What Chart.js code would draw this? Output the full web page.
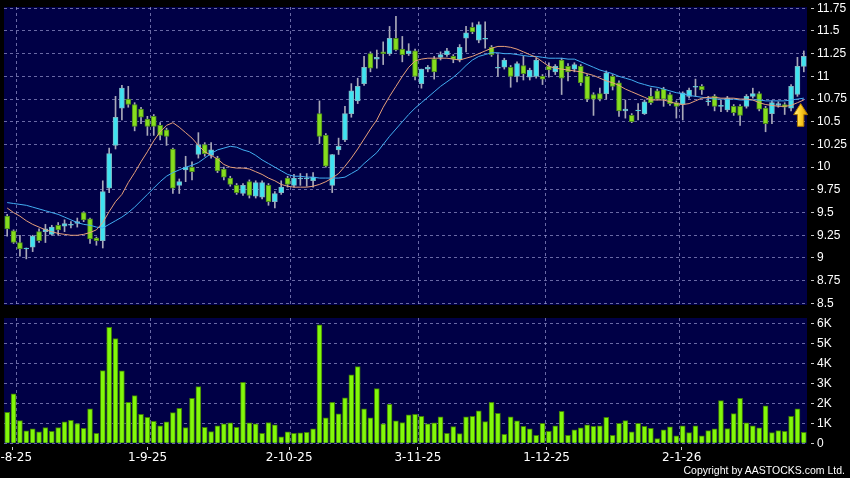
<!DOCTYPE html>
<html><head><meta charset="utf-8">
<script src="https://cdn.jsdelivr.net/npm/chart.js@4/dist/chart.umd.min.js"></script>
<style>
html,body{margin:0;padding:0;background:#000;width:850px;height:478px;overflow:hidden;}
#wrap{position:relative;width:850px;height:478px;background:#000;}
#c1{position:absolute;left:0;top:0;}
#c2{position:absolute;left:0;top:310px;}
#copy{position:absolute;right:5px;top:464px;color:#fff;font:10.5px "Liberation Sans",Arial,sans-serif;white-space:nowrap;}
</style></head>
<body>
<div id="wrap">
<canvas id="c1" width="850" height="310"></canvas>
<canvas id="c2" width="850" height="168"></canvas>
<div id="copy">Copyright by AASTOCKS.com Ltd.</div>
</div>
<script>
// ---- data ----
const dateLabels = ['1-8-25','1-9-25','2-10-25','3-11-25','1-12-25','2-1-26'];
const dateIndex  = [1, 22, 44, 64, 84, 105];
const priceTicks = [8.5, 8.75, 9, 9.25, 9.5, 9.75, 10, 10.25, 10.5, 10.75, 11, 11.25, 11.5, 11.75];
const volTicks   = [0, 1000, 2000, 3000, 4000, 5000, 6000];

const open = [9.46,9.30,9.17,9.10,9.12,9.29,9.29,9.26,9.36,9.35,
 9.36,9.38,9.50,9.43,9.22,9.19,9.77,10.24,10.65,10.75,
 10.69,10.64,10.53,10.56,10.46,10.41,10.20,9.80,9.97,10.00,
 10.14,10.25,10.13,10.10,9.98,9.88,9.80,9.71,9.84,9.68,
 9.67,9.80,9.62,9.72,9.88,9.80,9.87,9.87,9.85,10.59,
 10.35,9.80,10.19,10.30,10.59,10.73,10.92,11.25,11.19,11.27,
 11.25,11.42,11.30,11.25,11.28,10.92,11.08,11.19,11.21,11.24,
 11.22,11.18,11.42,11.54,11.40,11.41,11.32,11.09,11.10,11.10,
 11.00,11.12,10.99,11.00,11.00,11.11,11.05,11.18,11.11,11.08,
 11.11,11.00,10.80,10.81,10.81,11.00,10.93,10.62,10.57,10.62,
 10.59,10.78,10.84,10.86,10.80,10.71,10.69,10.78,10.88,10.89,
 10.72,10.78,10.67,10.63,10.67,10.67,10.67,10.78,10.81,10.65,
 10.59,10.68,10.69,10.65,10.80,11.11];
const high = [9.48,9.31,9.25,9.11,9.25,9.32,9.37,9.36,9.39,9.42,
 9.40,9.44,9.51,9.44,9.23,9.85,10.21,10.78,10.90,10.89,
 10.71,10.66,10.56,10.58,10.49,10.43,10.21,9.87,10.12,10.06,
 10.38,10.27,10.27,10.12,10.00,9.90,9.82,9.82,9.86,9.85,
 9.85,9.82,9.73,9.85,9.90,9.92,9.93,9.93,9.94,10.73,
 10.37,10.14,10.32,10.67,10.92,10.98,11.22,11.27,11.29,11.38,
 11.55,11.66,11.44,11.36,11.30,11.08,11.12,11.22,11.27,11.31,
 11.24,11.35,11.55,11.59,11.60,11.60,11.34,11.24,11.20,11.12,
 11.16,11.22,11.09,11.20,11.02,11.15,11.13,11.20,11.14,11.15,
 11.13,11.02,10.82,10.87,11.06,11.02,10.95,10.74,10.59,10.70,
 10.74,10.87,10.86,10.88,10.82,10.73,10.83,10.87,10.97,10.91,
 10.78,10.80,10.74,10.78,10.69,10.69,10.80,10.87,10.83,10.67,
 10.73,10.72,10.71,10.91,11.21,11.28];
const low = [9.24,9.16,9.02,8.99,9.07,9.17,9.17,9.25,9.25,9.29,
 9.33,9.34,9.40,9.16,9.14,9.11,9.72,10.20,10.52,10.66,
 10.40,10.48,10.35,10.35,10.30,10.24,9.71,9.71,9.84,9.86,
 10.10,10.12,10.10,9.94,9.86,9.79,9.70,9.69,9.66,9.66,
 9.65,9.58,9.55,9.70,9.78,9.78,9.80,9.79,9.78,10.26,
 10.00,9.72,10.14,10.28,10.55,10.70,10.90,11.05,11.09,11.13,
 11.23,11.28,11.16,11.23,10.96,10.87,11.05,10.97,11.18,11.22,
 11.15,11.16,11.27,11.47,11.37,11.31,11.22,11.00,11.08,10.88,
 10.94,10.96,10.96,10.98,10.91,10.99,11.02,10.80,10.95,11.05,
 10.90,10.72,10.57,10.73,10.75,10.85,10.56,10.54,10.49,10.52,
 10.58,10.69,10.74,10.67,10.68,10.54,10.52,10.76,10.78,10.80,
 10.68,10.62,10.61,10.61,10.57,10.46,10.65,10.76,10.62,10.39,
 10.48,10.66,10.58,10.62,10.78,11.05];
const close = [9.32,9.17,9.10,9.11,9.24,9.19,9.32,9.34,9.31,9.38,
 9.37,9.40,9.42,9.21,9.19,9.73,10.15,10.55,10.87,10.69,
 10.45,10.55,10.45,10.45,10.35,10.34,9.77,9.84,10.00,9.95,
 10.25,10.15,10.19,9.96,9.89,9.81,9.72,9.80,9.69,9.83,
 9.83,9.62,9.71,9.78,9.81,9.88,9.88,9.88,9.89,10.34,
 10.01,10.14,10.23,10.59,10.84,10.89,11.10,11.09,11.21,11.25,
 11.42,11.29,11.24,11.28,11.00,11.08,11.10,11.05,11.24,11.28,
 11.19,11.32,11.48,11.49,11.57,11.42,11.24,11.10,11.18,11.00,
 11.14,11.03,11.07,11.18,10.97,11.07,11.11,10.98,11.05,11.13,
 10.93,10.75,10.75,10.75,11.04,10.89,10.62,10.64,10.50,10.63,
 10.72,10.71,10.75,10.75,10.70,10.67,10.82,10.85,10.89,10.85,
 10.73,10.67,10.68,10.76,10.60,10.57,10.78,10.81,10.64,10.48,
 10.71,10.70,10.66,10.89,11.11,11.22];
const maShort = [9.55,9.50,9.46,9.41,9.37,9.34,9.31,9.29,9.27,9.26,
 9.25,9.25,9.26,9.28,9.31,9.39,9.51,9.62,9.70,9.83,
 9.94,10.06,10.17,10.29,10.39,10.46,10.49,10.44,10.38,10.32,
 10.24,10.17,10.13,10.09,10.03,10.00,9.99,9.99,9.98,9.95,
 9.92,9.88,9.85,9.81,9.79,9.78,9.78,9.78,9.79,9.81,
 9.84,9.88,9.93,10.01,10.10,10.20,10.31,10.42,10.52,10.66,
 10.78,10.89,11.00,11.10,11.17,11.19,11.20,11.20,11.20,11.20,
 11.19,11.18,11.20,11.22,11.25,11.28,11.31,11.33,11.33,11.32,
 11.30,11.27,11.24,11.21,11.16,11.11,11.09,11.08,11.07,11.06,
 11.05,11.03,11.01,10.98,10.95,10.93,10.90,10.86,10.83,10.80,
 10.77,10.74,10.74,10.74,10.72,10.70,10.69,10.70,10.73,10.76,
 10.77,10.77,10.76,10.76,10.76,10.75,10.75,10.74,10.71,10.69,
 10.68,10.67,10.67,10.68,10.71,10.74];
const maLong = [9.61,9.60,9.59,9.58,9.56,9.54,9.52,9.50,9.48,9.45,
 9.42,9.39,9.37,9.36,9.34,9.33,9.37,9.41,9.45,9.50,
 9.56,9.63,9.70,9.77,9.84,9.90,9.94,9.97,10.00,10.02,
 10.05,10.10,10.15,10.19,10.21,10.23,10.22,10.19,10.17,10.13,
 10.08,10.04,10.00,9.96,9.92,9.90,9.90,9.89,9.89,9.88,
 9.88,9.88,9.88,9.89,9.93,9.97,10.04,10.10,10.16,10.25,
 10.34,10.42,10.50,10.58,10.65,10.71,10.77,10.83,10.89,10.94,
 10.99,11.05,11.12,11.18,11.22,11.24,11.26,11.26,11.25,11.25,
 11.24,11.23,11.22,11.22,11.21,11.20,11.20,11.20,11.19,11.19,
 11.16,11.13,11.10,11.07,11.05,11.03,11.00,10.98,10.96,10.93,
 10.91,10.89,10.88,10.86,10.84,10.82,10.81,10.79,10.78,10.77,
 10.76,10.75,10.75,10.75,10.75,10.74,10.74,10.74,10.74,10.73,
 10.73,10.73,10.73,10.74,10.75,10.76];
const volume = [1550,2470,1130,620,720,570,780,600,780,1070,
 1150,980,750,1720,500,3630,5800,5230,3620,2050,
 2380,1450,1300,1100,870,1070,1530,1750,780,2250,
 2830,800,580,870,970,1020,800,3050,1020,970,
 500,1030,920,320,570,500,520,550,720,5920,
 1270,2050,1470,2270,3420,3830,1720,1270,2730,970,
 1950,1120,1030,1420,1450,1350,970,1020,1320,500,
 830,480,1320,1350,1620,1080,2050,1500,450,1320,
 1120,850,720,400,1000,600,870,1600,400,670,
 770,920,850,870,1300,400,1000,1130,570,1000,
 850,750,230,670,820,370,870,530,870,370,
 630,720,2130,730,1480,2250,1020,870,770,1870,
 530,630,600,1350,1720,550];
const arrowMark = { index: 124.5, tip: 10.70, tail: 10.45 };

// ---- styling ----
const NAVY = '#000046';
const GRID = 'rgba(150,150,205,0.7)';
const UP_FILL = '#3fe3f0', UP_LINE = '#7fb7c4';
const DN_FILL = '#86dd1e', DN_LINE = '#4b8a1c';
const WICK = '#a9a9b9';
const idx = close.map((_, i) => i);

const navyBg = { id: 'navyBg', beforeDraw(chart) {
  const { ctx, chartArea: a } = chart;
  ctx.save(); ctx.fillStyle = NAVY;
  ctx.fillRect(a.left, a.top, a.right - a.left, a.bottom - a.top);
  ctx.restore();
}};

const arrowPlugin = { id: 'arrowMark', afterDatasetsDraw(chart) {
  const { ctx, scales } = chart;
  const x = scales.x.getPixelForValue(arrowMark.index);
  const yT = scales.y.getPixelForValue(arrowMark.tip);
  const yB = scales.y.getPixelForValue(arrowMark.tail);
  const hw = 7, sw = 3.2, hh = 11;
  ctx.save();
  const g = ctx.createLinearGradient(x - hw, 0, x + hw, 0);
  g.addColorStop(0, '#fff3a0'); g.addColorStop(0.45, '#ffd22a'); g.addColorStop(1, '#d99a00');
  ctx.fillStyle = g; ctx.strokeStyle = '#b07a00'; ctx.lineWidth = 1;
  ctx.beginPath();
  ctx.moveTo(x, yT); ctx.lineTo(x + hw, yT + hh); ctx.lineTo(x + sw, yT + hh);
  ctx.lineTo(x + sw, yB); ctx.lineTo(x - sw, yB); ctx.lineTo(x - sw, yT + hh);
  ctx.lineTo(x - hw, yT + hh); ctx.closePath();
  ctx.fill(); ctx.stroke();
  ctx.restore();
}};

// grid axis: one vertical dashed line after each labelled trading day
function xGrid() {
  return {
    type: 'linear', position: 'bottom', min: -0.5, max: close.length - 0.5, offset: false,
    afterBuildTicks: s => { s.ticks = dateIndex.map(d => ({ value: d + 0.5 })); },
    ticks: { display: false },
    grid: { color: GRID, offset: false, drawTicks: false },
    border: { display: false, dash: [3, 3] },
    afterFit: s => { s.height = 0; s.paddingLeft = 0; s.paddingRight = 0; }
  };
}
// label axis: date labels and their small tick marks
function xLabels() {
  return {
    type: 'linear', position: 'bottom', min: -0.317, max: close.length - 1.53, offset: false,
    afterBuildTicks: s => { s.ticks = dateIndex.map(d => ({ value: d })); },
    ticks: { autoSkip: false, maxRotation: 0, minRotation: 0, color: '#fff',
      font: { family: 'DejaVu Sans', size: 12 }, padding: 1,
      callback: (v, i) => dateLabels[i] },
    grid: { drawOnChartArea: false, drawTicks: true, offset: false, tickLength: 6, tickColor: '#c8c8c8',
      tickBorderDash: [3, 3], tickBorderDashOffset: 3 },
    border: { display: false },
    afterFit: s => { s.height = 34; s.paddingLeft = 0; s.paddingRight = 0; }
  };
}
function yScale(min, max, ticksArr, fmt) {
  return {
    position: 'right', min, max,
    afterBuildTicks: s => { s.ticks = ticksArr.map(v => ({ value: v })); },
    ticks: { color: '#fff', font: { family: 'Liberation Sans', size: 12 }, padding: 3, callback: fmt },
    grid: { color: GRID, tickLength: 7, tickColor: '#c8c8c8', tickBorderDash: [3, 4], tickBorderDashOffset: 3 },
    border: { display: false, dash: [3, 3] },
    afterFit: s => { s.width = 43; s.paddingTop = 0; s.paddingBottom = 0; }
  };
}

const common = { responsive: false, animation: false, devicePixelRatio: 1, events: [],
  plugins: { legend: { display: false }, tooltip: { enabled: false } } };

new Chart(document.getElementById('c1'), {
  type: 'bar',
  data: { datasets: [
    { type: 'line', order: 0, data: idx.map(i => ({ x: i, y: maShort[i] })), borderColor: '#e7a07a', borderWidth: 1, pointRadius: 0, tension: 0 },
    { type: 'line', order: 1, data: idx.map(i => ({ x: i, y: maLong[i] })), borderColor: '#42aef2', borderWidth: 1, pointRadius: 0, tension: 0 },
    { type: 'bar', order: 2, grouped: false, barThickness: 5, borderWidth: 1, borderSkipped: false,
      data: idx.map(i => ({ x: i, y: [open[i], close[i]] })),
      backgroundColor: idx.map(i => close[i] >= open[i] ? UP_FILL : DN_FILL),
      borderColor: idx.map(i => close[i] >= open[i] ? UP_LINE : DN_LINE) },
    { type: 'bar', order: 3, grouped: false, barThickness: 1, borderWidth: 0,
      data: idx.map(i => ({ x: i, y: [low[i], high[i]] })), backgroundColor: WICK }
  ]},
  options: Object.assign({}, common, {
    layout: { padding: { left: 4, top: 7, right: 0, bottom: 5 } },
    scales: { x: xGrid(), y: yScale(8.482, 11.764, priceTicks, v => String(v)) }
  }),
  plugins: [navyBg, arrowPlugin]
});

new Chart(document.getElementById('c2'), {
  type: 'bar',
  data: { datasets: [
    { type: 'bar', barThickness: 5, borderWidth: 1, data: idx.map(i => ({ x: i, y: volume[i] })),
      backgroundColor: '#82f80a', borderColor: '#3f7c06' }
  ]},
  options: Object.assign({}, common, {
    layout: { padding: { left: 4, top: 8, right: 0, bottom: 0 } },
    scales: { x: xGrid(), xl: xLabels(), y: yScale(-35, 6265, volTicks, v => v === 0 ? '0' : (v / 1000) + 'K') }
  }),
  plugins: [navyBg]
});
</script>
</body></html>
